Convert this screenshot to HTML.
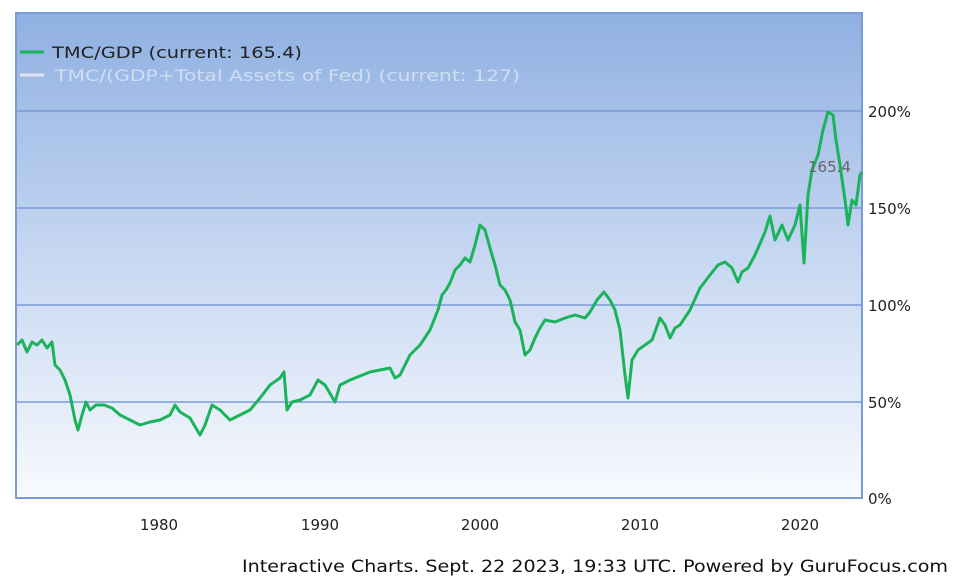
<!DOCTYPE html>
<html><head><meta charset="utf-8"><style>
body{margin:0;background:#fff;width:953px;height:587px;overflow:hidden;font-family:"DejaVu Sans","Liberation Sans",sans-serif}
</style></head><body>
<svg width="953" height="587" xmlns="http://www.w3.org/2000/svg" style="position:absolute;left:0;top:0" font-family="DejaVu Sans, Liberation Sans, sans-serif">
<defs><linearGradient id="g" x1="0" y1="0" x2="0" y2="1">
<stop offset="0" stop-color="#8fb0e2"/><stop offset="0.5" stop-color="#c6d7f1"/><stop offset="1" stop-color="#f8fafe"/></linearGradient></defs>
<rect x="16" y="13" width="846" height="485" fill="url(#g)" stroke="#7a9cd6" stroke-width="2"/>
<g stroke="#7a9cd6" stroke-width="1.5">
<line x1="16" y1="111" x2="862" y2="111"/><line x1="16" y1="208" x2="862" y2="208"/>
<line x1="16" y1="305" x2="862" y2="305"/><line x1="16" y1="402" x2="862" y2="402"/>
</g>
<g font-size="15" fill="#222">
<text x="868" y="117">200%</text><text x="868" y="214">150%</text><text x="868" y="311">100%</text><text x="868" y="408">50%</text><text x="868" y="504">0%</text>
<text x="159" y="530" text-anchor="middle">1980</text><text x="320" y="530" text-anchor="middle">1990</text><text x="480" y="530" text-anchor="middle">2000</text><text x="640" y="530" text-anchor="middle">2010</text><text x="800" y="530" text-anchor="middle">2020</text>
</g>
<line x1="20" y1="52" x2="44" y2="52" stroke="#1bb35a" stroke-width="3"/>
<text x="52" y="58" font-size="16" fill="#222" textLength="250" lengthAdjust="spacingAndGlyphs">TMC/GDP (current: 165.4)</text>
<line x1="20" y1="75" x2="44" y2="75" stroke="#dfe5f2" stroke-width="3"/>
<text x="55" y="81" font-size="16" fill="#dbe3f3" opacity="0.85" textLength="465" lengthAdjust="spacingAndGlyphs">TMC/(GDP+Total Assets of Fed) (current: 127)</text>
<polyline fill="none" stroke="#1bb35a" stroke-width="3" stroke-linejoin="round" points="17,345 22,340 27,352 32,342 37,345 42,340 47,348 52,342 55,365 60,370 65,380 70,395 75,420 78,430 82,415 86,402 90,410 96,405 104,405 112,408 120,415 130,420 140,425 150,422 160,420 170,415 175,405 180,412 190,418 200,435 205,425 212,405 220,410 230,420 240,415 250,410 260,398 270,385 280,378 284,372 287,410 292,402 300,400 310,395 318,380 325,385 335,402 340,385 350,380 360,376 370,372 380,370 390,368 395,378 400,375 410,355 420,345 430,330 438,310 442,295 446,290 450,283 455,270 460,265 465,258 470,262 475,245 480,225 485,230 490,248 495,265 500,285 505,290 510,300 515,322 520,330 525,355 530,350 535,338 540,328 545,320 555,322 565,318 575,315 585,318 590,312 597,300 604,292 610,300 615,310 620,330 625,375 628,398 632,360 638,350 645,345 652,340 660,318 665,325 670,338 675,328 680,325 690,310 700,288 710,275 718,265 725,262 732,268 738,282 742,272 748,268 755,255 765,232 770,216 775,240 782,225 788,240 795,225 800,205 804,263 808,195 812,170 818,155 823,130 828,112 833,115 836,140 840,165 845,200 848,225 852,200 856,205 860,175 862,172"/>
<text x="808" y="172" font-size="15" fill="#666">165.4</text>
<text x="242" y="572" font-size="17" fill="#111" textLength="706" lengthAdjust="spacingAndGlyphs">Interactive Charts. Sept. 22 2023, 19:33 UTC. Powered by GuruFocus.com</text>
</svg>
</body></html>
